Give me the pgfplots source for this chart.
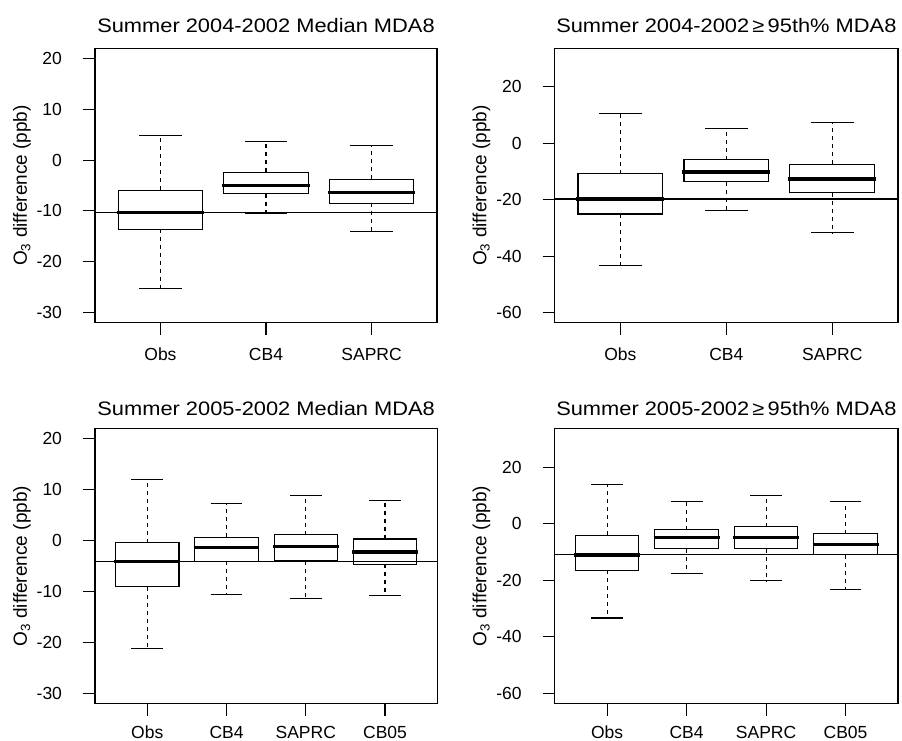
\documentclass[border=0pt]{standalone}
\usepackage{fontspec}
\setmainfont{Liberation Sans}
\newfontfamily\titlefont[FakeStretch=1.12]{Liberation Sans}
\usepackage{pgfplots}
\pgfplotsset{compat=1.18}
\usepgfplotslibrary{statistics}

\pgfplotsset{
  panel/.style={
    scale only axis, anchor=south west,
    axis line style={line width=1.1pt},
    every tick/.style={line width=1.1pt, black},
    major tick length=12pt, tick align=outside,
    xtick pos=bottom, ytick pos=left,
    xtick={1,2,3,4},
    ticklabel style={font=\fontsize{17.5}{20}\selectfont},
    title style={font=\titlefont\fontsize{19.5}{22}\selectfont, anchor=base, at={(0.5,1)}, yshift=10pt},
    ylabel={O\textsubscript{3} difference (ppb)},
    ylabel style={font=\fontsize{19}{22}\selectfont, at={(axis description cs:-0.199,0.5)}, anchor=base},
    yticklabel style={anchor=east, xshift=-17.5pt},
    xticklabel style={anchor=base, yshift=-26pt},
    clip=false,
  },
  med/.style={ymin=-32, ymax=22, ytick={-30,-20,-10,0,10,20}, yticklabels={-30,-20,-10,0,10,20}},
  pct/.style={ymin=-63.6, ymax=33.6, ytick={-60,-40,-20,0,20}, yticklabels={-60,-40,-20,0,20}},
  three/.style={xmin=0.38, xmax=3.62, xticklabels={Obs,CB4,SAPRC}},
  four/.style={xmin=0.34, xmax=4.66, xticklabels={Obs,CB4,SAPRC,CB05}},
  rbox/.style={
    black,
    boxplot/draw direction=y,
    boxplot/box extend=0.8,
    boxplot/draw/box/.code={%
      \draw[line width=1.1pt] (boxplot box cs:\pgfplotsboxplotvalue{lower quartile},0)
        rectangle (boxplot box cs:\pgfplotsboxplotvalue{upper quartile},1);},
    boxplot/draw/median/.code={%
      \draw[line width=3.5pt] (boxplot box cs:\pgfplotsboxplotvalue{median},-0.02)
        -- (boxplot box cs:\pgfplotsboxplotvalue{median},1.02);},
    boxplot/draw/lower whisker/.code={%
      \draw[line width=1.1pt, dash pattern=on 4pt off 4pt] (boxplot box cs:\pgfplotsboxplotvalue{lower quartile},0.5)
        -- (boxplot box cs:\pgfplotsboxplotvalue{lower whisker},0.5);
      \draw[line width=1.1pt] (boxplot box cs:\pgfplotsboxplotvalue{lower whisker},0.25)
        -- (boxplot box cs:\pgfplotsboxplotvalue{lower whisker},0.75);},
    boxplot/draw/upper whisker/.code={%
      \draw[line width=1.1pt, dash pattern=on 4pt off 4pt] (boxplot box cs:\pgfplotsboxplotvalue{upper quartile},0.5)
        -- (boxplot box cs:\pgfplotsboxplotvalue{upper whisker},0.5);
      \draw[line width=1.1pt] (boxplot box cs:\pgfplotsboxplotvalue{upper whisker},0.25)
        -- (boxplot box cs:\pgfplotsboxplotvalue{upper whisker},0.75);},
  },
}

\begin{document}
\begin{tikzpicture}[x=1pt,y=1pt]
\useasboundingbox (0,0) rectangle (902,741);

% top left
\begin{axis}[panel, med, three, at={(95pt,418.3pt)}, width=342pt, height=274.4pt,
  title={Summer 2004-2002 Median MDA8}]
\addplot[rbox, boxplot prepared={draw position=1, lower whisker=-25.3, lower quartile=-13.6, median=-10.3, upper quartile=-5.9, upper whisker=4.8}] coordinates {};
\addplot[rbox, boxplot prepared={draw position=2, lower whisker=-10.6, lower quartile=-6.6, median=-5.0, upper quartile=-2.4, upper whisker=3.7}] coordinates {};
\addplot[rbox, boxplot prepared={draw position=3, lower whisker=-14.0, lower quartile=-8.5, median=-6.4, upper quartile=-3.8, upper whisker=2.9}] coordinates {};
\addplot[black, line width=1.1pt] coordinates {(0.38,-10.3) (3.62,-10.3)};
\end{axis}

% top right
\begin{axis}[panel, pct, three, at={(554.7pt,418.3pt)}, width=343.3pt, height=274.4pt,
  title={Summer 2004-2002\,≥\,95th\% MDA8}]
\addplot[rbox, boxplot prepared={draw position=1, lower whisker=-43.4, lower quartile=-25.1, median=-19.8, upper quartile=-10.8, upper whisker=10.4}] coordinates {};
\addplot[rbox, boxplot prepared={draw position=2, lower whisker=-24.0, lower quartile=-13.6, median=-10.2, upper quartile=-5.9, upper whisker=5.3}] coordinates {};
\addplot[rbox, boxplot prepared={draw position=3, lower whisker=-31.8, lower quartile=-17.5, median=-12.7, upper quartile=-7.5, upper whisker=7.2}] coordinates {};
\addplot[black, line width=1.1pt] coordinates {(0.38,-19.8) (3.62,-19.8)};
\end{axis}

% bottom left
\begin{axis}[panel, med, four, at={(95pt,37.3pt)}, width=342.3pt, height=275pt,
  title style={yshift=-3pt}, xticklabel style={yshift=3pt},
  title={Summer 2005-2002 Median MDA8}]
\addplot[rbox, boxplot prepared={draw position=1, lower whisker=-21.2, lower quartile=-9.0, median=-4.05, upper quartile=-0.4, upper whisker=12.0}] coordinates {};
\addplot[rbox, boxplot prepared={draw position=2, lower whisker=-10.5, lower quartile=-4.05, median=-1.35, upper quartile=0.7, upper whisker=7.4}] coordinates {};
\addplot[rbox, boxplot prepared={draw position=3, lower whisker=-11.3, lower quartile=-3.9, median=-1.1, upper quartile=1.2, upper whisker=8.8}] coordinates {};
\addplot[rbox, boxplot prepared={draw position=4, lower whisker=-10.75, lower quartile=-4.6, median=-2.2, upper quartile=0.35, upper whisker=7.9}] coordinates {};
\addplot[black, line width=1.1pt] coordinates {(0.34,-4.1) (4.66,-4.1)};
\end{axis}

% bottom right
\begin{axis}[panel, pct, four, at={(554.7pt,37.3pt)}, width=343.3pt, height=275pt,
  title style={yshift=-3pt}, xticklabel style={yshift=3pt},
  title={Summer 2005-2002\,≥\,95th\% MDA8}]
\addplot[rbox, boxplot prepared={draw position=1, lower whisker=-33.3, lower quartile=-16.4, median=-11.1, upper quartile=-4.0, upper whisker=13.9}] coordinates {};
\addplot[rbox, boxplot prepared={draw position=2, lower whisker=-17.7, lower quartile=-8.75, median=-4.9, upper quartile=-2.15, upper whisker=8.0}] coordinates {};
\addplot[rbox, boxplot prepared={draw position=3, lower whisker=-20.2, lower quartile=-8.75, median=-4.9, upper quartile=-1.1, upper whisker=10.1}] coordinates {};
\addplot[rbox, boxplot prepared={draw position=4, lower whisker=-23.1, lower quartile=-11.0, median=-7.3, upper quartile=-3.56, upper whisker=8.0}] coordinates {};
\addplot[black, line width=1.1pt] coordinates {(0.34,-11.0) (4.66,-11.0)};
\end{axis}
\end{tikzpicture}
\end{document}
